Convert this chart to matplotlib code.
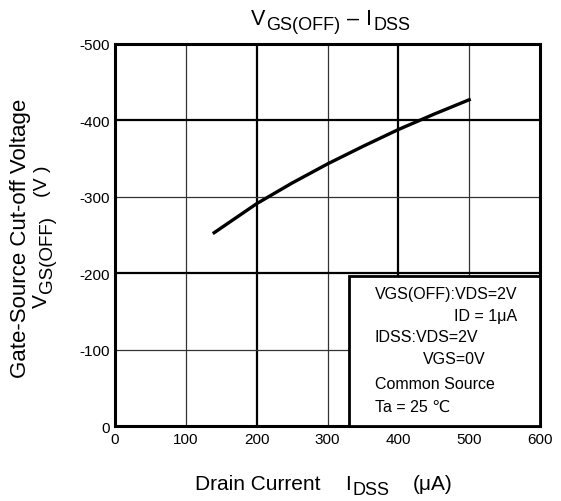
import numpy as np
import matplotlib.pyplot as plt
from matplotlib.patches import Rectangle
from matplotlib.transforms import IdentityTransform

plt.rcParams['font.family'] = ['Liberation Sans', 'DejaVu Sans']
plt.rcParams['axes.unicode_minus'] = False
#--------------------------------------
idss = [140, 200, 250, 300, 350, 400, 450, 500]
vgsoff = [-253, -291, -318, -343, -366, -388, -408, -427]
xticks = [0, 100, 200, 300, 400, 500, 600]
yticks = [0, -100, -200, -300, -400, -500]
notes = ['VGS(OFF):VDS=2V', 'ID = 1\u03bcA', 'IDSS:VDS=2V', 'VGS=0V',
         'Common Source', 'Ta = 25 \u2103']
#--------------------------------------
fig = plt.figure(figsize=(5.61, 5.02), dpi=100)
ax = fig.add_axes([0.205, 0.1494, 0.7576, 0.761])
ax.set_xlim(0, 600)
ax.set_ylim(0, -500)
ax.set_xticks(xticks)
ax.set_xticklabels([str(t) for t in xticks], fontsize=11)
ax.set_yticks(yticks)
ax.set_yticklabels([str(t) for t in yticks], fontsize=11)
ax.tick_params(length=0, pad=4)
for s in ax.spines.values():
    s.set_linewidth(2.2)

# grid: every 200 bold, every 100 thin
for x in xticks[1:-1]:
    lw, c = (1.6, 'black') if x % 200 == 0 else (0.9, '#333333')
    ax.axvline(x, color=c, lw=lw, zorder=1)
for y in yticks[1:-1]:
    lw, c = (1.6, 'black') if y % 200 == 0 else (0.9, '#333333')
    ax.axhline(y, color=c, lw=lw, zorder=1)

ax.plot(idss, vgsoff, color='black', lw=2.4, zorder=3)

# condition box
ax.add_patch(Rectangle((330, 0), 270, -196, facecolor='white',
                       edgecolor='black', lw=2.0, zorder=4))
ty = [-173, -145, -116.5, -89, -56, -26]
tx = [367, 567, 367, 435, 367, 367]
ha = ['left', 'right', 'left', 'left', 'left', 'left']
for t, x, y, h in zip(notes, tx, ty, ha):
    ax.text(x, y, t, ha=h, va='center', fontsize=11.5, zorder=5)

#--------------------------------------
# labels with big subscripts, built from runs of text (pixel coords)
renderer = fig.canvas.get_renderer()
px = IdentityTransform()

def runs_text(runs, cx, base, rot=0):
    # runs: (text, size, shift down in px, gap before in px)
    widths = []
    for s, sz, dn, gap in runs:
        t = fig.text(0, 0, s, fontsize=sz, transform=px)
        widths.append(t.get_window_extent(renderer).width)
        t.remove()
    total = sum(widths) + sum(r[3] for r in runs)
    pos = cx - total / 2
    for (s, sz, dn, gap), w in zip(runs, widths):
        pos += gap
        if rot == 0:
            fig.text(pos, base - dn, s, fontsize=sz, transform=px,
                     ha='left', va='baseline')
        else:
            fig.text(base + dn, pos, s, fontsize=sz, transform=px,
                     rotation=90, rotation_mode='anchor',
                     ha='left', va='baseline')
        pos += w + 1

runs_text([('V', 15.5, 0, 0), ('GS(OFF)', 13, 5, 0), ('\u2013', 15.5, 0, 6),
           ('I', 15.5, 0, 6), ('DSS', 13, 5, 0)], 328.5, 477)
runs_text([('Drain Current', 15, 0, 0), ('I', 15, 0, 24), ('DSS', 13, 5, 0),
           ('(\u03bcA)', 15, 0, 23)], 322.5, 12)
runs_text([('Gate-Source Cut-off Voltage', 16, 0, 0)], 264, 26, rot=90)
runs_text([('V', 15, 0, 0), ('GS(OFF)', 13.5, 5, 0), ('(V )', 14, 0, 18)],
          264.5, 47, rot=90)

fig.savefig('out.png', dpi=100)
